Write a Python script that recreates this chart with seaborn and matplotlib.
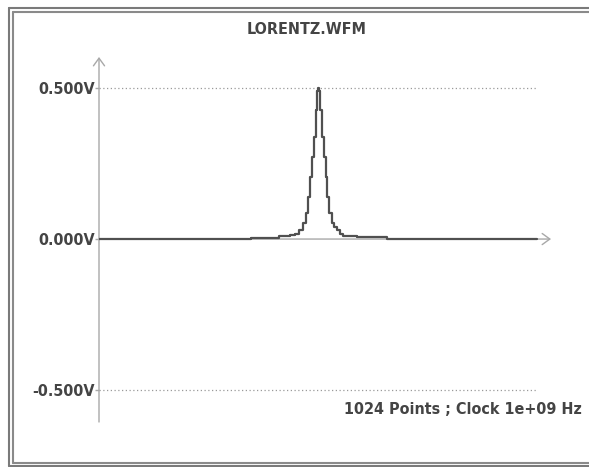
import matplotlib
matplotlib.use("Agg")
import matplotlib.pyplot as plt
from matplotlib.lines import Line2D
import seaborn as sns
import pandas as pd

# ---- data (sample index vs. voltage) ----
sample_idx = [0, 355, 421, 447, 458, 468, 477, 484, 489, 493, 498, 503, 507, 510, 512,
              514, 517, 521, 525, 530, 533, 538, 544, 549, 556, 563, 570, 603, 673, 1023]
volts = [0.0, 0.004, 0.0086, 0.012, 0.016, 0.030, 0.053, 0.086, 0.139, 0.205, 0.272, 0.338, 0.427, 0.49, 0.50,
         0.49, 0.427, 0.338, 0.272, 0.205, 0.139, 0.086, 0.053, 0.040, 0.030, 0.016, 0.010, 0.0056, 0.0, 0.0]
ytick_vals = [0.5, 0.0, -0.5]
ytick_labels = ["0.500V", "0.000V", "-0.500V"]
title_text = "LORENTZ.WFM"
footer_text = "1024 Points ; Clock 1e+09 Hz"
n_points = 1024

sns.set_style("white")
plt.rcParams['font.family'] = ['DejaVu Sans']

W, H = 589, 467
fig = plt.figure(figsize=(W / 100, H / 100), dpi=100)
fig.patch.set_facecolor("white")

def fx(px):
    return px / W

def fy(py):
    return 1 - py / H

# outer double frame (left, top, bottom; right side is cut off)
for (xl, yt, yb, c) in [(8.5, 7.5, 466.0, "#7a7a7a"), (12.5, 11.5, 462.5, "#8a8a8a")]:
    fig.add_artist(Line2D([fx(xl), fx(xl)], [fy(yt), fy(yb)], color=c, lw=1.5))
    fig.add_artist(Line2D([fx(xl), 1.0], [fy(yt), fy(yt)], color=c, lw=1.5))
    fig.add_artist(Line2D([fx(xl), 1.0], [fy(yb), fy(yb)], color=c, lw=1.5))

# axes placed so that left edge = y axis, right edge = x-axis arrow tip
ax_left, ax_right, ax_top, ax_bot = 99, 551, 57, 422
ax = fig.add_axes([fx(ax_left), fy(ax_bot), (ax_right - ax_left) / W, (ax_bot - ax_top) / H])
ax.set_facecolor("none")
xmax = n_points * (ax_right - ax_left) / 438.0
ax.set_xlim(0, xmax)
ax.set_ylim(-0.606, 0.603)
for s in ax.spines.values():
    s.set_visible(False)

axis_col = "#a8a8a8"
# dotted gridlines
for v in [0.5, -0.5]:
    ax.plot([0, n_points], [v, v], ls=(0, (1, 2)), color="#9a9a9a", lw=0.9)

# axes with open arrowheads
ax.annotate("", xy=(0, 1), xycoords="axes fraction", xytext=(0, 0),
            arrowprops=dict(arrowstyle="->,head_length=0.55,head_width=0.4",
                            color=axis_col, lw=1.0, shrinkA=0, shrinkB=0))
ax.annotate("", xy=(xmax, 0), xycoords="data", xytext=(0, 0),
            arrowprops=dict(arrowstyle="->,head_length=0.55,head_width=0.4",
                            color=axis_col, lw=1.0, shrinkA=0, shrinkB=0))

df = pd.DataFrame({"idx": sample_idx, "v": volts})
sns.lineplot(data=df, x="idx", y="v", ax=ax, drawstyle="steps-post",
             color="#505050", lw=1.6, estimator=None, sort=False, zorder=5)

ax.set_xticks([])
ax.set_yticks(ytick_vals)
ax.set_yticklabels(ytick_labels)
ax.tick_params(axis="y", length=3, width=1, color=axis_col, pad=0,
               labelsize=11.5, labelcolor="#444444", left=True)
for t in ax.get_yticklabels():
    t.set_fontweight("bold")
    t.set_fontstretch("condensed")
ax.set_xlabel("")
ax.set_ylabel("")

fig.text(fx(307), fy(30), title_text, ha="center", va="center", fontsize=11.5,
         fontweight="bold", fontstretch="condensed", color="#444444")
fig.text(fx(582), fy(410), footer_text, ha="right", va="center", fontsize=11.5,
         fontweight="bold", fontstretch="condensed", color="#444444")

fig.savefig("out.png", dpi=100, facecolor="white")
